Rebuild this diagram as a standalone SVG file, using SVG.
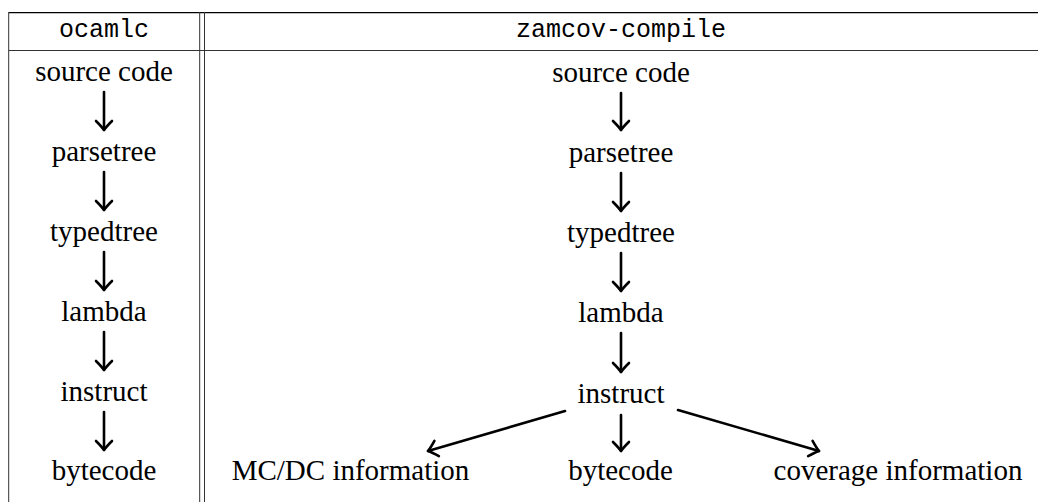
<svg xmlns="http://www.w3.org/2000/svg" width="1038" height="502" viewBox="0 0 1038 502">
<style>
.t{font-family:"Liberation Serif","Times New Roman",serif;font-size:29px;fill:#000;text-anchor:middle}
.m{font-family:"Liberation Mono","Courier New",monospace;font-size:25px;fill:#000;text-anchor:middle}
.rule{stroke:#333;stroke-width:1;fill:none}
.arr{stroke:#000;stroke-width:2.6;fill:none;stroke-linecap:round;marker-end:url(#ah)}
</style>
<defs>
<marker id="ah" markerUnits="userSpaceOnUse" markerWidth="24" markerHeight="24" viewBox="-12 -12 24 24" refX="0" refY="0" orient="auto" overflow="visible">
<path d="M-9,-8 Q-3.5,-2.5 0,0 Q-3.5,2.5 -9,8" stroke="#000" stroke-width="2.6" fill="none" stroke-linecap="round" stroke-linejoin="round"/>
</marker>
</defs>
<rect width="1038" height="502" fill="#fff"/>
<g id="table">
<line x1="8.7" y1="12.7" x2="1038" y2="12.7" stroke="#000" stroke-width="1.3"/>
<line class="rule" x1="8.7" y1="50.5" x2="1038" y2="50.5"/>
<line class="rule" x1="8.7" y1="12" x2="8.7" y2="502"/>
<line class="rule" x1="199.7" y1="12" x2="199.7" y2="502"/>
<line class="rule" x1="204.5" y1="12" x2="204.5" y2="502"/>
</g>
<g id="header">
<text class="m" x="104" y="37">ocamlc</text>
<text class="m" x="621" y="37">zamcov-compile</text>
</g>
<g id="l-source"><text class="t" x="104" y="81">source code</text></g>
<g id="l-parsetree"><text class="t" x="104" y="161">parsetree</text></g>
<g id="l-typedtree"><text class="t" x="104" y="241">typedtree</text></g>
<g id="l-lambda"><text class="t" x="104" y="321">lambda</text></g>
<g id="l-instruct"><text class="t" x="104" y="401">instruct</text></g>
<g id="l-bytecode"><text class="t" x="104" y="480">bytecode</text></g>
<g id="r-source"><text class="t" x="621" y="82">source code</text></g>
<g id="r-parsetree"><text class="t" x="621" y="162">parsetree</text></g>
<g id="r-typedtree"><text class="t" x="621" y="242">typedtree</text></g>
<g id="r-lambda"><text class="t" x="621" y="322">lambda</text></g>
<g id="r-instruct"><text class="t" x="621" y="403">instruct</text></g>
<g id="r-mcdc"><text class="t" x="350.5" y="480">MC/DC information</text></g>
<g id="r-bytecode"><text class="t" x="620.5" y="480">bytecode</text></g>
<g id="r-coverage"><text class="t" x="898" y="480">coverage information</text></g>
<g id="connectors">
<line class="arr" x1="104" y1="92" x2="104" y2="130"/>
<line class="arr" x1="104" y1="172" x2="104" y2="210"/>
<line class="arr" x1="104" y1="252" x2="104" y2="290"/>
<line class="arr" x1="104" y1="332" x2="104" y2="370"/>
<line class="arr" x1="104" y1="412" x2="104" y2="450"/>
<line class="arr" x1="621" y1="93" x2="621" y2="130"/>
<line class="arr" x1="621" y1="173" x2="621" y2="211"/>
<line class="arr" x1="621" y1="253" x2="621" y2="291"/>
<line class="arr" x1="621" y1="333" x2="621" y2="372"/>
<line class="arr" x1="621" y1="415" x2="621" y2="451"/>
<line class="arr" x1="565" y1="411" x2="428" y2="451"/>
<line class="arr" x1="678" y1="410" x2="819" y2="451"/>
</g>
</svg>
